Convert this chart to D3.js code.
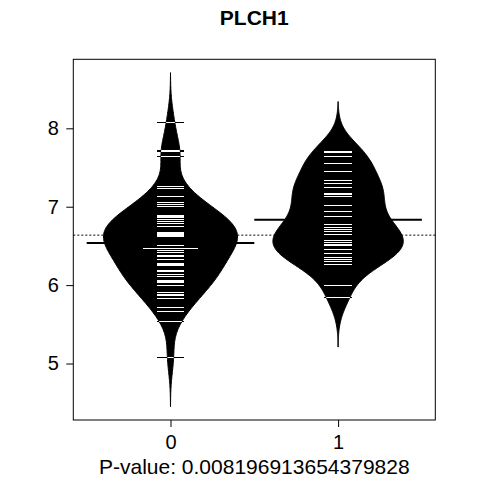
<!DOCTYPE html>
<html>
<head>
<meta charset="utf-8">
<script src="https://cdn.jsdelivr.net/npm/d3@7"></script>
<style>
  body { margin: 0; background: #fff; }
  text { font-family: "Liberation Sans", Arial, sans-serif; }
</style>
</head>
<body>
<svg id="chart" width="480" height="480"></svg>
<script>
// values, per group
const group0 = [8.08, 7.72, 7.70, 7.64, 7.26, 7.23, 7.13, 7.06, 7.03, 7.00,
  6.89, 6.885, 6.88, 6.875, 6.87, 6.865, 6.84, 6.81, 6.78, 6.75,
  6.665, 6.66, 6.655, 6.645, 6.64, 6.635, 6.63, 6.625, 6.62, 6.615,
  6.55, 6.51, 6.47, 6.47, 6.445, 6.44, 6.41, 6.38, 6.36, 6.33,
  6.27, 6.265, 6.25, 6.19, 6.185, 6.17, 6.14, 6.11, 6.06, 6.045,
  6.03, 5.99, 5.90, 5.885, 5.87, 5.83, 5.71, 5.66, 5.54, 5.08]
const group1 = [7.71, 7.69, 7.64, 7.55, 7.45, 7.33, 7.29, 7.25, 7.17, 7.15,
  7.13, 7.01, 6.94, 6.88, 6.77, 6.74, 6.71, 6.68, 6.64, 6.57,
  6.55, 6.52, 6.50, 6.46, 6.40, 6.35, 6.33, 6.30, 6.26, 5.99, 5.84]
const groupLabels = ["0", "1"]
const yTicks = [5, 6, 7, 8]
const title = "PLCH1"
const pValueText = "P-value: 0.008196913654379828"

const groups = [group0, group1]
const bw = 0.21       // common bandwidth
const cut = 3         // bean tails run 3 bandwidths past the data
const maxwidth = 0.8  // widest bean, in x units
const ll = 0.167      // bean line length

let svg = d3.select("#chart")
const plotLeft = 73.3, plotRight = 435.3, plotTop = 59.3, plotBottom = 420

// density per group
function kde(vals) {
  const lo = d3.min(vals) - cut * bw, hi = d3.max(vals) + cut * bw
  const n = 256
  const pts = []
  for (let i = 0; i <= n; i++) {
    const v = lo + (hi - lo) * i / n
    const d = d3.mean(vals, x => Math.exp(-0.5 * ((v - x) / bw) ** 2)) / (bw * Math.sqrt(2 * Math.PI))
    pts.push({v: v, d: d})
  }
  return pts
}
const dens = groups.map(kde)
const dmax = d3.max(dens, p => d3.max(p, q => q.d))

// y range from bean extents, padded like R
const ylo = d3.min(dens, p => p[0].v), yhi = d3.max(dens, p => p[p.length - 1].v)
const pad = (yhi - ylo) * 0.04
const x = d3.scaleLinear().domain([0.42, 2.58]).range([plotLeft, plotRight])
const y = d3.scaleLinear().domain([ylo - pad, yhi + pad]).range([plotBottom, plotTop])

// overall mean, dotted
const overall = d3.mean(group0.concat(group1))
svg.append("line")
  .attr("x1", plotLeft).attr("x2", plotRight)
  .attr("y1", y(overall)).attr("y2", y(overall))
  .attr("stroke", "#000").attr("stroke-width", 1)
  .attr("stroke-dasharray", "2,2")

groups.forEach((vals, gi) => {
  const c = gi + 1
  const area = d3.area()
    .y(d => y(d.v))
    .x0(d => x(c - d.d / dmax * maxwidth / 2))
    .x1(d => x(c + d.d / dmax * maxwidth / 2))
  const g = svg.append("g")
  g.append("clipPath").attr("id", "bean" + gi)
    .append("path").attr("d", area(dens[gi]))
  g.append("path")
    .attr("d", area(dens[gi]))
    .attr("fill", "#000").attr("stroke", "#000").attr("stroke-width", 1)

  // ties get longer lines
  const counts = d3.rollups(vals, v => v.length, d => d)
  const lines = g.append("g").attr("shape-rendering", "crispEdges")
  lines.selectAll("line.out")
    .data(counts)
    .join("line")
      .attr("class", "out")
      .attr("x1", d => x(c - ll * d[1] / 2))
      .attr("x2", d => x(c + ll * d[1] / 2))
      .attr("y1", d => y(d[0])).attr("y2", d => y(d[0]))
      .attr("stroke", "#000")
  lines.selectAll("line.in")
    .data(counts)
    .join("line")
      .attr("class", "in")
      .attr("clip-path", "url(#bean" + gi + ")")
      .attr("x1", d => x(c - ll * d[1] / 2))
      .attr("x2", d => x(c + ll * d[1] / 2))
      .attr("y1", d => y(d[0])).attr("y2", d => y(d[0]))
      .attr("stroke", "#fff")

  // group mean
  const m = d3.mean(vals)
  g.append("line")
    .attr("x1", x(c - 0.5)).attr("x2", x(c + 0.5))
    .attr("y1", y(m)).attr("y2", y(m))
    .attr("stroke", "#000").attr("stroke-width", 2)
})

// box
svg.append("rect")
  .attr("x", plotLeft).attr("y", plotTop)
  .attr("width", plotRight - plotLeft).attr("height", plotBottom - plotTop)
  .attr("fill", "none").attr("stroke", "#000").attr("stroke-width", 1)

const yAxis = svg.append("g")
  .attr("transform", `translate(${plotLeft},0)`)
  .call(d3.axisLeft(y).tickValues(yTicks).tickSize(7).tickPadding(7.5).tickFormat(d3.format("d")))
yAxis.select(".domain").remove()
yAxis.selectAll("text").attr("font-size", 20).attr("fill", "#000")
  .attr("font-family", "Liberation Sans, Arial, sans-serif")

const xAxis = svg.append("g")
  .attr("transform", `translate(0,${plotBottom})`)
  .call(d3.axisBottom(x).tickValues([1, 2]).tickSize(7).tickPadding(8).tickFormat((d, i) => groupLabels[i]))
xAxis.select(".domain").remove()
xAxis.selectAll("text").attr("font-size", 20).attr("fill", "#000")
  .attr("font-family", "Liberation Sans, Arial, sans-serif")

svg.append("text")
  .attr("x", (plotLeft + plotRight) / 2).attr("y", 24.5)
  .attr("text-anchor", "middle")
  .attr("font-size", 21).attr("font-weight", "bold")
  .text(title)

svg.append("text")
  .attr("x", (plotLeft + plotRight) / 2).attr("y", 474)
  .attr("text-anchor", "middle")
  .attr("font-size", 21)
  .text(pValueText)
</script>
</body>
</html>
